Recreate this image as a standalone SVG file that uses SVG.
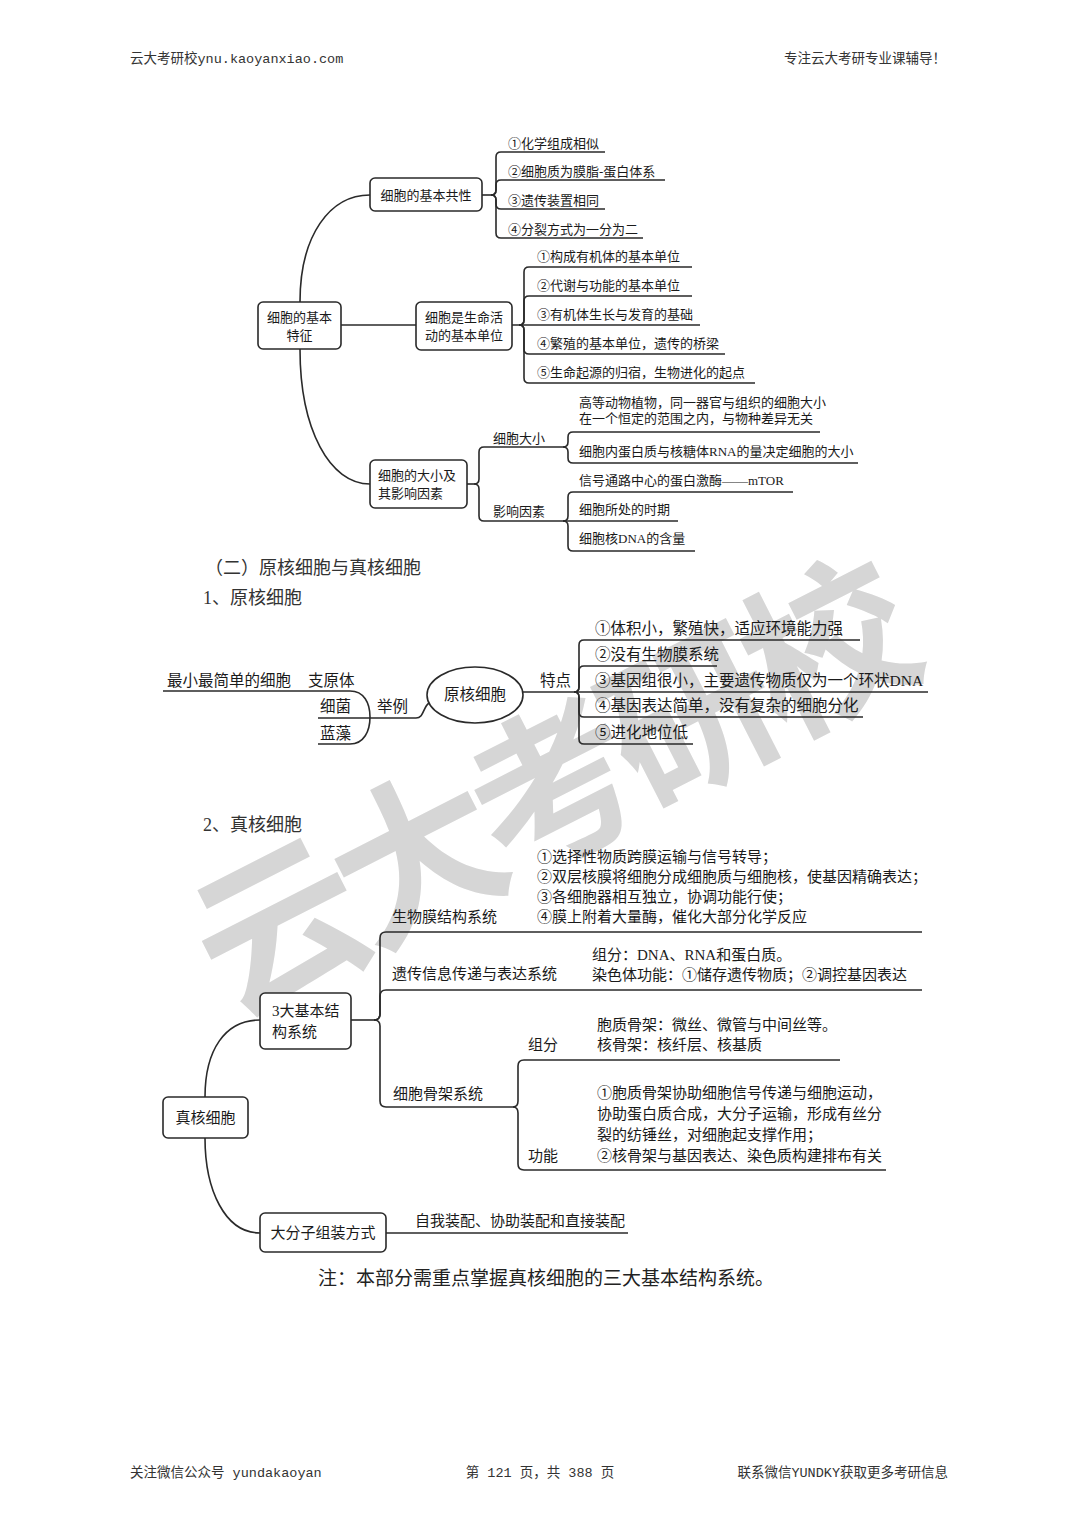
<svg xmlns="http://www.w3.org/2000/svg" width="1080" height="1527" viewBox="0 0 1080 1527">
<style>
.bg{fill:#ffffff}
.wm{font-family:"Noto Sans CJK SC",sans-serif;font-weight:bold;font-size:168px;letter-spacing:-14px;fill:#d6d6d6}
.hf{font-family:"Liberation Mono","Noto Sans CJK SC",monospace;font-size:13.5px;fill:#333}
.t13{font-family:"Liberation Serif","Noto Sans CJK SC",serif;font-size:13px;fill:#1a1a1a}
.t15{font-family:"Liberation Serif","Noto Sans CJK SC",serif;font-size:15px;fill:#1a1a1a}
.t16{font-family:"Liberation Serif","Noto Sans CJK SC",serif;font-size:15.5px;fill:#1a1a1a}
.h18{font-family:"Liberation Serif","Noto Sans CJK SC",serif;font-size:18px;fill:#333}
.note{font-family:"Liberation Serif","Noto Sans CJK SC",serif;font-size:19px;fill:#222}
.box{fill:#ffffff;stroke:#2a2a2a;stroke-width:1.6}
.ln{fill:none;stroke:#2a2a2a;stroke-width:1.6}
.c{text-anchor:middle}
</style>
<rect class="bg" x="0" y="0" width="1080" height="1527"/>

<!-- watermark -->
<text class="wm c" x="548" y="852" transform="rotate(-27 548 790)">云大考研校</text>

<!-- header / footer -->
<g id="header">
<text class="hf" x="130" y="63">云大考研校ynu.kaoyanxiao.com</text>
<text class="hf" x="946" y="63" text-anchor="end">专注云大考研专业课辅导！</text>
</g>
<g id="footer">
<text class="hf" x="130" y="1477">关注微信公众号 yundakaoyan</text>
<text class="hf" x="540" y="1477" text-anchor="middle">第 121 页，共 388 页</text>
<text class="hf" x="948" y="1477" text-anchor="end">联系微信YUNDKY获取更多考研信息</text>
</g>

<!-- connectors -->
<g id="connectors" class="ln">
<!-- section 1 -->
<path d="M300,302 C300,235 330,195 370,195"/>
<path d="M300,349 C300,430 330,484 370,484"/>
<path d="M341,325 H416"/>
<path d="M482,195 H491"/>
<path d="M491,195 Q496,195 496,190 V157 Q496,152 501,152 H605"/>
<path d="M491,195 Q496,195 496,190 V185 Q496,180 501,180 H665"/>
<path d="M491,195 Q496,195 496,200 V204 Q496,209 501,209 H605"/>
<path d="M491,195 Q496,195 496,200 V233 Q496,238 501,238 H643"/>
<path d="M512,325 H700"/>
<path d="M519,325 Q524,325 524,320 V272 Q524,267 529,267 H692"/>
<path d="M519,325 Q524,325 524,320 V301 Q524,296 529,296 H692"/>
<path d="M519,325 Q524,325 524,330 V349 Q524,354 529,354 H725"/>
<path d="M519,325 Q524,325 524,330 V378 Q524,383 529,383 H755"/>
<path d="M467,484 H474"/>
<path d="M474,484 Q479,484 479,479 V452 Q479,447 484,447 H563"/>
<path d="M474,484 Q479,484 479,489 V516 Q479,521 484,521 H563"/>
<path d="M563,447 Q568,447 568,442 V437 Q568,432 573,432 H820"/>
<path d="M563,447 Q568,447 568,452 V458 Q568,463 573,463 H858"/>
<path d="M563,521 Q568,521 568,516 V497 Q568,492 573,492 H793"/>
<path d="M563,521 H678"/>
<path d="M563,521 Q568,521 568,526 V546 Q568,551 573,551 H695"/>
<!-- section 2 -->
<path d="M163,691 H350 C364,691 370,703 370,717 C370,731 364,744 350,744 H318"/>
<path d="M318,718 H416 C424,718 423,707 429,703"/>
<path d="M523,692 H928"/>
<path d="M574,692 Q579,692 579,687 V645 Q579,640 584,640 H860"/>
<path d="M574,692 Q579,692 579,687 V671 Q579,666 584,666 H717"/>
<path d="M574,692 Q579,692 579,697 V712 Q579,717 584,717 H863"/>
<path d="M574,692 Q579,692 579,697 V739 Q579,744 584,744 H693"/>
<!-- section 3 -->
<path d="M205,1097 C205,1050 225,1020 260,1020"/>
<path d="M205,1138 C205,1190 225,1233 260,1233"/>
<path d="M351,1020 H374"/>
<path d="M374,1020 Q380,1020 380,1014 V938 Q380,932 386,932 H922"/>
<path d="M374,1020 Q380,1020 380,1014 V996 Q380,990 386,990 H922"/>
<path d="M374,1020 Q380,1020 380,1026 V1101 Q380,1107 386,1107 H513"/>
<path d="M513,1107 Q518,1107 518,1101 V1066 Q518,1060 524,1060 H840"/>
<path d="M513,1107 Q518,1107 518,1113 V1164 Q518,1170 524,1170 H886"/>
<path d="M386,1233 H628"/>
</g>

<!-- section 1 nodes -->
<g id="n-root1">
<rect class="box" x="258" y="302" width="83" height="47" rx="5"/>
<text class="t13 c" x="299.5" y="322">细胞的基本</text>
<text class="t13 c" x="299.5" y="340">特征</text>
</g>
<g id="n-common">
<rect class="box" x="370" y="178" width="112" height="33" rx="5"/>
<text class="t13 c" x="426" y="200">细胞的基本共性</text>
</g>
<g id="n-common-items">
<text class="t13" x="508" y="148">①化学组成相似</text>
<text class="t13" x="508" y="176">②细胞质为膜脂-蛋白体系</text>
<text class="t13" x="508" y="205">③遗传装置相同</text>
<text class="t13" x="508" y="234">④分裂方式为一分为二</text>
</g>
<g id="n-unit">
<rect class="box" x="416" y="302" width="96" height="48" rx="5"/>
<text class="t13 c" x="464" y="322">细胞是生命活</text>
<text class="t13 c" x="464" y="340">动的基本单位</text>
</g>
<g id="n-unit-items">
<text class="t13" x="537" y="261">①构成有机体的基本单位</text>
<text class="t13" x="537" y="290">②代谢与功能的基本单位</text>
<text class="t13" x="537" y="319">③有机体生长与发育的基础</text>
<text class="t13" x="537" y="348">④繁殖的基本单位，遗传的桥梁</text>
<text class="t13" x="537" y="377">⑤生命起源的归宿，生物进化的起点</text>
</g>
<g id="n-size">
<rect class="box" x="370" y="460" width="97" height="48" rx="5"/>
<text class="t13" x="378" y="480">细胞的大小及</text>
<text class="t13" x="378" y="498">其影响因素</text>
</g>
<g id="n-size-items">
<text class="t13" x="493" y="443">细胞大小</text>
<text class="t13" x="493" y="516">影响因素</text>
<text class="t13" x="579" y="407">高等动物植物，同一器官与组织的细胞大小</text>
<text class="t13" x="579" y="423">在一个恒定的范围之内，与物种差异无关</text>
<text class="t13" x="579" y="456">细胞内蛋白质与核糖体RNA的量决定细胞的大小</text>
<text class="t13" x="579" y="485">信号通路中心的蛋白激酶——mTOR</text>
<text class="t13" x="579" y="514">细胞所处的时期</text>
<text class="t13" x="579" y="543">细胞核DNA的含量</text>
</g>

<!-- headings -->
<g id="headings">
<text class="h18" x="205" y="574">（二）原核细胞与真核细胞</text>
<text class="h18" x="203" y="604">1、原核细胞</text>
<text class="h18" x="203" y="831">2、真核细胞</text>
</g>

<!-- section 2 nodes -->
<g id="n-prok">
<ellipse class="box" cx="475" cy="695" rx="48" ry="28"/>
<text class="t16 c" x="475" y="700">原核细胞</text>
</g>
<g id="n-prok-examples">
<text class="t16" x="167" y="686">最小最简单的细胞</text>
<text class="t16" x="308" y="686">支原体</text>
<text class="t16" x="320" y="712">细菌</text>
<text class="t16" x="320" y="739">蓝藻</text>
<text class="t16" x="377" y="712">举例</text>
</g>
<g id="n-prok-features">
<text class="t16" x="540" y="686">特点</text>
<text class="t16" x="595" y="634">①体积小，繁殖快，适应环境能力强</text>
<text class="t16" x="595" y="660">②没有生物膜系统</text>
<text class="t16" x="595" y="686">③基因组很小，主要遗传物质仅为一个环状DNA</text>
<text class="t16" x="595" y="711">④基因表达简单，没有复杂的细胞分化</text>
<text class="t16" x="595" y="738">⑤进化地位低</text>
</g>

<!-- section 3 nodes -->
<g id="n-euk">
<rect class="box" x="163" y="1097" width="85" height="41" rx="5"/>
<text class="t15 c" x="205.5" y="1123">真核细胞</text>
</g>
<g id="n-three">
<rect class="box" x="260" y="993" width="91" height="56" rx="5"/>
<text class="t15" x="272" y="1016">3大基本结</text>
<text class="t15" x="272" y="1037">构系统</text>
</g>
<g id="n-membrane">
<text class="t15" x="392" y="922">生物膜结构系统</text>
<text class="t15" x="537" y="862">①选择性物质跨膜运输与信号转导；</text>
<text class="t15" x="537" y="882">②双层核膜将细胞分成细胞质与细胞核，使基因精确表达；</text>
<text class="t15" x="537" y="902">③各细胞器相互独立，协调功能行使；</text>
<text class="t15" x="537" y="922">④膜上附着大量酶，催化大部分化学反应</text>
</g>
<g id="n-genetic">
<text class="t15" x="392" y="979">遗传信息传递与表达系统</text>
<text class="t15" x="592" y="960">组分：DNA、RNA和蛋白质。</text>
<text class="t15" x="592" y="980">染色体功能：①储存遗传物质；②调控基因表达</text>
</g>
<g id="n-cytoskeleton">
<text class="t15" x="393" y="1099">细胞骨架系统</text>
<text class="t15" x="528" y="1050">组分</text>
<text class="t15" x="597" y="1030">胞质骨架：微丝、微管与中间丝等。</text>
<text class="t15" x="597" y="1050">核骨架：核纤层、核基质</text>
<text class="t15" x="528" y="1161">功能</text>
<text class="t15" x="597" y="1098">①胞质骨架协助细胞信号传递与细胞运动，</text>
<text class="t15" x="597" y="1119">协助蛋白质合成，大分子运输，形成有丝分</text>
<text class="t15" x="597" y="1140">裂的纺锤丝，对细胞起支撑作用；</text>
<text class="t15" x="597" y="1161">②核骨架与基因表达、染色质构建排布有关</text>
</g>
<g id="n-assembly">
<rect class="box" x="260" y="1213" width="126" height="39" rx="5"/>
<text class="t15 c" x="323" y="1238">大分子组装方式</text>
<text class="t15" x="415" y="1226">自我装配、协助装配和直接装配</text>
</g>

<g id="note">
<text class="note" x="318" y="1285">注：本部分需重点掌握真核细胞的三大基本结构系统。</text>
</g>
</svg>
